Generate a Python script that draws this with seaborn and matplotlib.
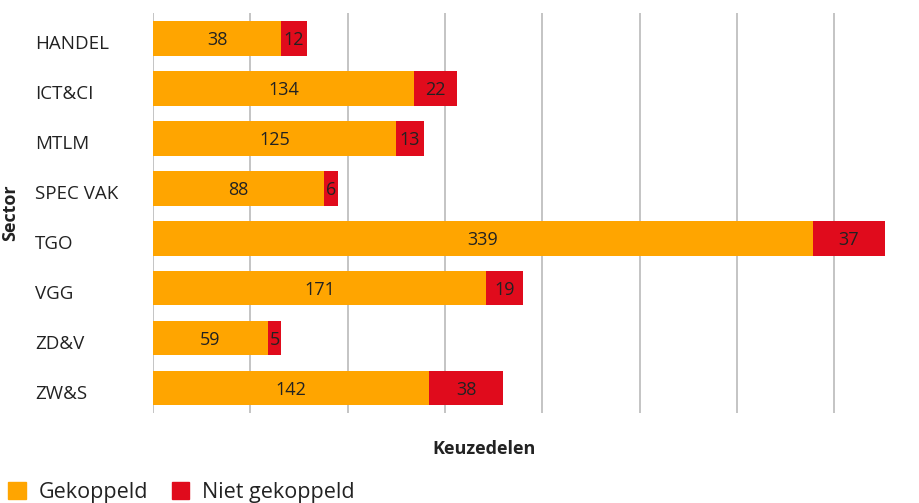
import pandas as pd
import seaborn as sns
import matplotlib.pyplot as plt
from matplotlib.transforms import ScaledTranslation

# Data
sectors = ["HANDEL", "ICT&CI", "MTLM", "SPEC VAK", "TGO", "VGG", "ZD&V", "ZW&S"]
# bar lengths as drawn
gekoppeld = [66, 134, 125, 88, 339, 171, 59, 142]
niet_gekoppeld = [13, 22, 14, 7, 37, 19, 7, 38]
# numbers as printed on the bars
gekoppeld_labels = ["38", "134", "125", "88", "339", "171", "59", "142"]
niet_gekoppeld_labels = ["12", "22", "13", "6", "37", "19", "5", "38"]
x_grid = [0, 50, 100, 150, 200, 250, 300, 350]

ORANGE = "#FFA500"
RED = "#E00B1C"
TEXT = "#222222"

sns.set_theme(style="white")
plt.rcParams["font.family"] = ["Open Sans", "DejaVu Sans"]

df = pd.DataFrame({
    "sector": sectors,
    "gekoppeld": gekoppeld,
    "niet_gekoppeld": niet_gekoppeld,
})
df["totaal"] = df["gekoppeld"] + df["niet_gekoppeld"]

fig = plt.figure(figsize=(9.2, 5.03), dpi=100)
ax = fig.add_axes([153 / 920, 1 - 413 / 503, 734 / 920, 400 / 503])

# stacked bars: total in red, gekoppeld in orange on top
sns.barplot(data=df, y="sector", x="totaal", color=RED, saturation=1,
            width=0.7, linewidth=0, ax=ax)
sns.barplot(data=df, y="sector", x="gekoppeld", color=ORANGE, saturation=1,
            width=0.7, linewidth=0, ax=ax)

# value labels in the middle of each segment, nudged down a bit
down2 = ax.transData + ScaledTranslation(0, -2 / 100, fig.dpi_scale_trans)
for i, row in df.iterrows():
    ax.text(row["gekoppeld"] / 2, i, gekoppeld_labels[i],
            ha="center", va="center", fontsize=13, color=TEXT,
            transform=down2)
    ax.text(row["gekoppeld"] + row["niet_gekoppeld"] / 2, i,
            niet_gekoppeld_labels[i], ha="center", va="center",
            fontsize=13, color=TEXT, transform=down2)

ax.set_xlim(0, 377)
ax.set_ylim(len(sectors) - 0.5, -0.5)
ax.set_xticks(x_grid)
ax.grid(axis="x", color="#bfbfbf", linewidth=1.3)
ax.grid(axis="y", visible=False)
ax.set_axisbelow(True)
for s in ax.spines.values():
    s.set_visible(False)

ax.tick_params(axis="x", length=0, labelbottom=False)
ax.set_yticks(range(len(sectors)), sectors, ha="left")
ax.tick_params(axis="y", length=0, pad=85, labelsize=13.5, labelcolor=TEXT)
# category names sit a little below the bar centres
shift = ScaledTranslation(0, -4 / 100, fig.dpi_scale_trans)
for lbl in ax.get_yticklabels():
    lbl.set_transform(lbl.get_transform() + shift)

ax.set_xlabel("Keuzedelen", fontsize=13, fontweight="bold", color=TEXT)
ax.set_ylabel("Sector", fontsize=13, fontweight="bold", color=TEXT)
ax.xaxis.set_label_coords((484 - 153) / 734, (413 - 440) / 400)
ax.yaxis.set_label_coords((19 - 153) / 734, 0.5)

handles = [plt.Rectangle((0, 0), 1, 1, color=ORANGE),
           plt.Rectangle((0, 0), 1, 1, color=RED)]
fig.legend(handles, ["Gekoppeld", "Niet gekoppeld"], loc="lower left",
           bbox_to_anchor=(8 / 920, 0 / 503), ncol=2, frameon=False,
           fontsize=15.5, handlelength=0.82, handleheight=0.82,
           handletextpad=0.6, columnspacing=1.1, borderpad=0,
           borderaxespad=0, labelcolor=TEXT)

fig.savefig("out.png", dpi=100)
